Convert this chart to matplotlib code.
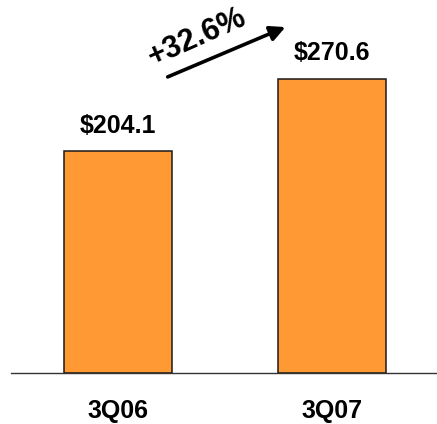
import matplotlib
matplotlib.use("Agg")
import matplotlib.pyplot as plt

categories = ["3Q06", "3Q07"]
values = [204.1, 270.6]
value_labels = ["$204.1", "$270.6"]
growth_label = "+32.6%"

plt.rcParams['font.family'] = ['Liberation Sans', 'DejaVu Sans']

W, H = 437, 424
fig = plt.figure(figsize=(W / 100, H / 100), dpi=100)
ax = fig.add_axes([11 / W, (H - 373) / H, (437 - 11) / W, 373 / H])

x = list(range(len(categories)))
ax.bar(x, values, width=0.505, color="#FF9933", edgecolor="#1a1a1a", linewidth=1.1, zorder=2)
ax.set_xlim(-0.5, 1.49)
ax.set_ylim(0, 342.9)

for xi, v, lab in zip(x, values, value_labels):
    ax.text(xi, v + 23.3, lab, ha="center", va="center", fontsize=18, fontweight="bold", color="black")

ax.set_xticks(x)
ax.set_xticklabels(categories, fontsize=18, fontweight="bold")
ax.tick_params(axis="x", length=0, pad=19)
ax.set_yticks([])
for s in ["top", "left", "right"]:
    ax.spines[s].set_visible(False)
ax.spines["bottom"].set_color("#333333")
ax.spines["bottom"].set_linewidth(1.0)

ax.annotate("", xy=(0.794, 319), xytext=(0.22, 271.2),
            arrowprops=dict(arrowstyle="-|>,head_length=0.9,head_width=0.45", color="black", lw=2.6))
ax.text(0.369, 308, growth_label, ha="center", va="center", rotation=24,
        fontsize=22, fontweight="bold", color="black", rotation_mode="anchor")

fig.savefig("out.png", dpi=100)
